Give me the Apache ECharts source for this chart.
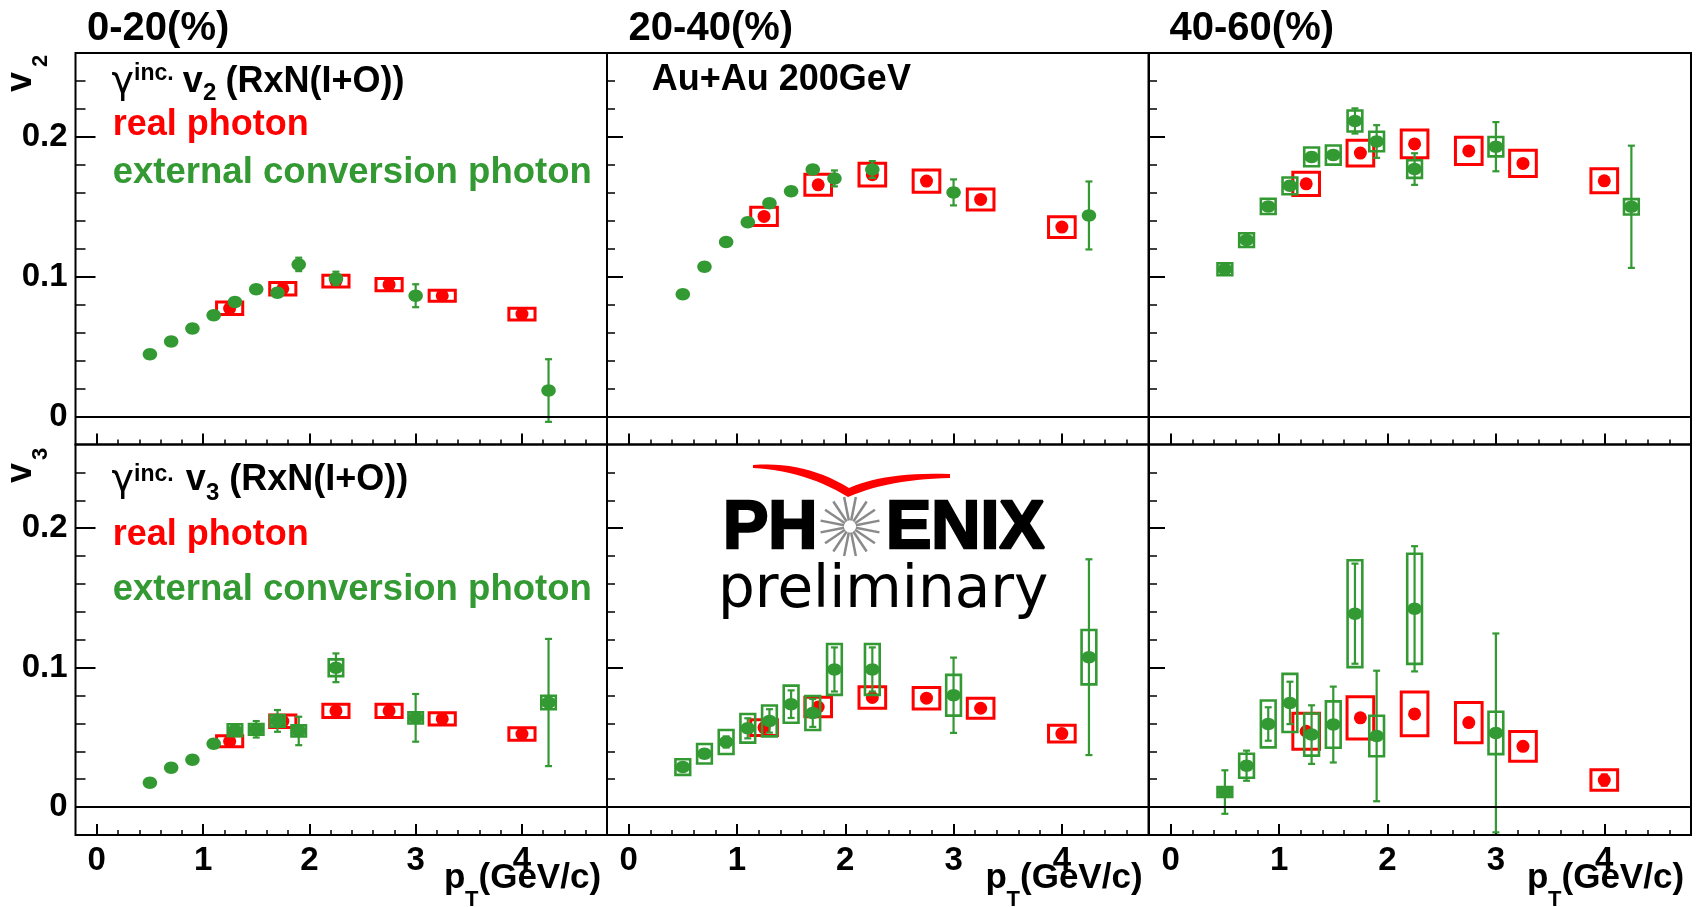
<!DOCTYPE html>
<html><head><meta charset="utf-8">
<script src="https://cdn.jsdelivr.net/npm/echarts@6/dist/echarts.min.js"></script>
<style>html,body{margin:0;padding:0;background:#fff}#c{width:1698px;height:907px}</style>
</head><body><div id="c"></div>
<script>
// ---------------- data ----------------
const greenX = [0.5, 0.7, 0.9, 1.1, 1.3, 1.5, 1.7, 1.9, 2.25, 3.0, 4.25];
const greenX_v3_4060 = [0.5, 0.7, 0.9, 1.1, 1.3, 1.5, 1.7, 1.9, 2.25, 3.0];
const redX = [1.25, 1.75, 2.25, 2.75, 3.25, 4.0];

const xMajorTicks = [0, 1, 2, 3, 4];
const xMinorTicks = [0.2,0.4,0.6,0.8,1.2,1.4,1.6,1.8,2.2,2.4,2.6,2.8,3.2,3.4,3.6,3.8,4.2,4.4,4.6];
const yMajorTicks = [0, 0.1, 0.2];
const yMinorTicks = [0.02,0.04,0.06,0.08,0.12,0.14,0.16,0.18,0.22,0.24];
const centralityLabels = ['0-20(%)', '20-40(%)', '40-60(%)'];

// v2, 0-20%
const v2_0020_extY    = [0.0445,0.0536,0.0629,0.0724,0.0819,0.0910,0.0886,0.1088,0.0988,0.0864,0.0186];
const v2_0020_extStat = [0.002,0.002,0.002,0.002,0.002,0.002,0.003,0.0048,0.0048,0.0082,0.0224];
const v2_0020_extSyst = [null,null,null,null,null,null,null,null,null,null,null];
const v2_0020_realY    = [0.0774,0.0914,0.0969,0.0943,0.0864,0.0733];
const v2_0020_realStat = [0.002,0.002,0.002,0.002,0.002,0.002];
const v2_0020_realSyst = [0.0045,0.0045,0.0042,0.0044,0.0040,0.0042];
// v2, 20-40%
const v2_2040_extY    = [0.0874,0.1072,0.1248,0.1390,0.1526,0.1612,0.1767,0.1703,0.1767,0.1603,0.1438];
const v2_2040_extStat = [0.002,0.002,0.002,0.002,0.002,0.002,0.003,0.0057,0.0060,0.0093,0.0243];
const v2_2040_extSyst = [null,null,null,null,null,null,null,null,null,null,null];
const v2_2040_realY    = [0.1431,0.1657,0.1730,0.1684,0.1553,0.1355];
const v2_2040_realStat = [0.002,0.002,0.002,0.002,0.002,0.002];
const v2_2040_realSyst = [0.0065,0.0075,0.0081,0.0080,0.0075,0.0074];
// v2, 40-60%
const v2_4060_extY    = [0.1053,0.1262,0.1503,0.1650,0.1857,0.1870,0.2114,0.1967,0.1770,0.1930,0.1500];
const v2_4060_extStat = [0.002,0.002,0.002,0.003,0.003,0.003,0.0090,0.0117,0.0113,0.0176,0.0437];
const v2_4060_extSyst = [0.0043,0.0049,0.0055,0.0060,0.0067,0.0068,0.0075,0.0070,0.0063,0.0069,0.0055];
const v2_4060_realY    = [0.1664,0.1884,0.1950,0.1900,0.1810,0.1686];
const v2_4060_realStat = [0.002,0.002,0.002,0.002,0.002,0.002];
const v2_4060_realSyst = [0.0083,0.0092,0.0100,0.0098,0.0094,0.0086];
// v3, 0-20%
const v3_0020_extY    = [0.0175,0.0283,0.0340,0.0455,0.0551,0.0558,0.0618,0.0546,0.0999,0.0640,0.0750];
const v3_0020_extStat = [0.001,0.001,0.001,0.002,0.003,0.0059,0.0078,0.0102,0.0103,0.0171,0.0456];
const v3_0020_extSyst = [null,null,null,null,0.0043,0.0038,0.0042,0.0040,0.0060,0.0040,0.0048];
const v3_0020_realY    = [0.0472,0.0616,0.0690,0.0690,0.0632,0.0524];
const v3_0020_realStat = [0.002,0.002,0.002,0.002,0.002,0.002];
const v3_0020_realSyst = [0.0040,0.0045,0.0048,0.0048,0.0044,0.0045];
// v3, 20-40%
const v3_2040_extY    = [0.0287,0.0383,0.0467,0.0565,0.0618,0.0738,0.0675,0.0987,0.0987,0.0802,0.1075];
const v3_2040_extStat = [0.002,0.003,0.004,0.0072,0.0084,0.0099,0.0100,0.0158,0.0158,0.0270,0.0702];
const v3_2040_extSyst = [0.0056,0.0070,0.0086,0.0103,0.0111,0.0133,0.0122,0.0182,0.0182,0.0146,0.0195];
const v3_2040_realY    = [0.0570,0.0718,0.0786,0.0781,0.0709,0.0527];
const v3_2040_realStat = [0.002,0.002,0.002,0.002,0.002,0.002];
const v3_2040_realSyst = [0.0057,0.0070,0.0077,0.0077,0.0072,0.0060];
// v3, 40-60%
const v3_4060_extY    = [0.0108,0.0297,0.0596,0.0747,0.0520,0.0592,0.1387,0.0510,0.1422,0.0532];
const v3_4060_extStat = [0.0156,0.0108,0.0120,0.0152,0.0210,0.0272,0.0359,0.0468,0.0449,0.0713];
const v3_4060_extSyst = [0.0035,0.0086,0.0168,0.0208,0.0151,0.0166,0.0383,0.0145,0.0395,0.0152];
const v3_4060_realY    = [0.0544,0.0640,0.0668,0.0606,0.0436,0.0194];
const v3_4060_realStat = [0.002,0.002,0.002,0.002,0.002,0.004];
const v3_4060_realSyst = [0.0129,0.0151,0.0157,0.0144,0.0107,0.0073];

// ---------------- layout / style ----------------
const RED = '#ff0000', GREEN = '#339933';
const colLeft = [75.5, 607, 1149], colWidth = [531.5, 541.5, 542];
const rowTop = [53, 444.5], rowHeight = [391.5, 390.5];
const RED_HW = 0.123, GREEN_HW = 0.068;
const ELLIPSE = 'path://M0,-1C0.552,-1,1,-0.552,1,0C1,0.552,0.552,1,0,1C-0.552,1,-1,0.552,-1,0C-1,-0.552,-0.552,-1,0,-1Z';

const panels = [
  {gx: greenX, gy: v2_0020_extY, gs: v2_0020_extStat, gsy: v2_0020_extSyst, ry: v2_0020_realY, rs: v2_0020_realStat, rsy: v2_0020_realSyst},
  {gx: greenX, gy: v2_2040_extY, gs: v2_2040_extStat, gsy: v2_2040_extSyst, ry: v2_2040_realY, rs: v2_2040_realStat, rsy: v2_2040_realSyst},
  {gx: greenX, gy: v2_4060_extY, gs: v2_4060_extStat, gsy: v2_4060_extSyst, ry: v2_4060_realY, rs: v2_4060_realStat, rsy: v2_4060_realSyst},
  {gx: greenX, gy: v3_0020_extY, gs: v3_0020_extStat, gsy: v3_0020_extSyst, ry: v3_0020_realY, rs: v3_0020_realStat, rsy: v3_0020_realSyst},
  {gx: greenX, gy: v3_2040_extY, gs: v3_2040_extStat, gsy: v3_2040_extSyst, ry: v3_2040_realY, rs: v3_2040_realStat, rsy: v3_2040_realSyst},
  {gx: greenX_v3_4060, gy: v3_4060_extY, gs: v3_4060_extStat, gsy: v3_4060_extSyst, ry: v3_4060_realY, rs: v3_4060_realStat, rsy: v3_4060_realSyst}
];

function boxRender(color, hw, lw) {
  return function (params, api) {
    const x = api.value(0), y = api.value(1), s = api.value(2);
    const p1 = api.coord([x - hw, y + s]), p2 = api.coord([x + hw, y - s]);
    return {type: 'rect', shape: {x: p1[0], y: p1[1], width: p2[0] - p1[0], height: p2[1] - p1[1]},
      style: {fill: 'none', stroke: color, lineWidth: lw}};
  };
}
function errRender(color) {
  return function (params, api) {
    const x = api.value(0), y = api.value(1), e = api.value(2);
    const t = api.coord([x, y + e]), b = api.coord([x, y - e]);
    const c = 3.5, st = {stroke: color, lineWidth: 2.2};
    return {type: 'group', children: [
      {type: 'line', shape: {x1: t[0], y1: t[1], x2: b[0], y2: b[1]}, style: st},
      {type: 'line', shape: {x1: t[0] - c, y1: t[1], x2: t[0] + c, y2: t[1]}, style: st},
      {type: 'line', shape: {x1: b[0] - c, y1: b[1], x2: b[0] + c, y2: b[1]}, style: st}
    ]};
  };
}

const grid = [], xAxis = [], yAxis = [], series = [];
const labelFont = {color: '#000', fontFamily: 'Liberation Sans', fontWeight: 'bold', fontSize: 33};
panels.forEach((p, g) => {
  const row = g < 3 ? 0 : 1, col = g % 3;
  grid.push({left: colLeft[col], top: rowTop[row], width: colWidth[col], height: rowHeight[row],
    show: true, borderColor: '#000', borderWidth: 2, backgroundColor: 'transparent',
    containLabel: false, outerBoundsMode: 'none'});
  const xb = {gridIndex: g, type: 'value', min: -0.2, max: 4.8, position: 'bottom',
    axisLine: {show: false, onZero: false}, splitLine: {show: false}};
  xAxis.push(Object.assign({}, xb, {
    axisTick: {show: true, inside: true, length: 11, customValues: xMajorTicks, lineStyle: {color: '#000', width: 2}},
    axisLabel: Object.assign({show: row === 1, customValues: xMajorTicks, margin: 9}, labelFont)}));
  xAxis.push(Object.assign({}, xb, {
    axisTick: {show: true, inside: true, length: 5, customValues: xMinorTicks, lineStyle: {color: '#000', width: 1.5}},
    axisLabel: {show: false}}));
  const yb = {gridIndex: g, type: 'value', min: -0.02, max: 0.26, position: 'left',
    axisLine: {show: false, onZero: false}, splitLine: {show: false}};
  yAxis.push(Object.assign({}, yb, {
    axisTick: {show: true, inside: true, length: col === 0 ? 20 : 16, customValues: yMajorTicks, lineStyle: {color: '#000', width: 2}},
    axisLabel: Object.assign({show: col === 0, customValues: yMajorTicks, margin: 8}, labelFont)}));
  yAxis.push(Object.assign({}, yb, {
    axisTick: {show: true, inside: true, length: col === 0 ? 10 : 8, customValues: yMinorTicks, lineStyle: {color: '#000', width: 1.5}},
    axisLabel: {show: false}}));
  const ax = {xAxisIndex: 2 * g, yAxisIndex: 2 * g};
  const red = redX.map((x, i) => [x, p.ry[i], p.rsy[i]]);
  const redErr = redX.map((x, i) => [x, p.ry[i], p.rs[i]]);
  const gBox = p.gx.map((x, i) => [x, p.gy[i], p.gsy[i]]).filter(d => d[2] != null);
  const gErr = p.gx.map((x, i) => [x, p.gy[i], p.gs[i]]);
  series.push(Object.assign({type: 'custom', renderItem: boxRender(RED, RED_HW, 3), data: red, z: 2}, ax));
  series.push(Object.assign({type: 'custom', renderItem: errRender(RED), data: redErr, z: 2}, ax));
  series.push(Object.assign({type: 'scatter', symbol: 'circle', symbolSize: 13, itemStyle: {color: RED, opacity: 1},
    data: redX.map((x, i) => [x, p.ry[i]]), z: 3,
    markLine: {silent: true, symbol: 'none', label: {show: false}, animation: false,
      lineStyle: {color: '#000', width: 2, type: 'solid'}, data: [{yAxis: 0}]}}, ax));
  series.push(Object.assign({type: 'custom', renderItem: boxRender(GREEN, GREEN_HW, 2.6), data: gBox, z: 4}, ax));
  series.push(Object.assign({type: 'custom', renderItem: errRender(GREEN), data: gErr, z: 4}, ax));
  series.push(Object.assign({type: 'scatter', symbol: ELLIPSE, symbolSize: [14.5, 12.5], itemStyle: {color: GREEN, opacity: 1},
    data: p.gx.map((x, i) => [x, p.gy[i]]), z: 5}, ax));
});

// ---------------- text annotations ----------------
function txt(str, x, base, size, opt) {
  opt = opt || {};
  const fam = opt.family || 'Liberation Sans';
  const w = opt.weight || 'bold';
  const st = {text: str, font: w + ' ' + size + 'px "' + fam + '"', fill: opt.color || '#000',
    textAlign: 'left', textVerticalAlign: 'middle'};
  if (opt.stroke) { st.stroke = opt.color || '#000'; st.lineWidth = opt.stroke; }
  return {type: 'text', x: x, y: base - 0.33 * size, scaleX: opt.sx || 1, z: 100, style: st};
}
function rtxt(str, xBase, yStart, size) {
  return {type: 'text', x: xBase - 0.33 * size, y: yStart, rotation: Math.PI / 2, z: 100,
    style: {text: str, font: 'bold ' + size + 'px "Liberation Sans"', fill: '#000',
      textAlign: 'left', textVerticalAlign: 'middle'}};
}
function quad(p0, p1, p2, n) {
  const pts = [];
  for (let i = 0; i <= n; i++) {
    const t = i / n, a = (1 - t) * (1 - t), b = 2 * t * (1 - t), c = t * t;
    pts.push([a * p0[0] + b * p1[0] + c * p2[0], a * p0[1] + b * p1[1] + c * p2[1]]);
  }
  return pts;
}
const gfx = [];
[87, 628.6, 1169.5].forEach((x, i) => gfx.push(txt(centralityLabels[i], x, 42, 40)));
// y titles
gfx.push(rtxt('v', 32.5, 92, 36), rtxt('2', 48.5, 67, 22));
gfx.push(rtxt('v', 32.5, 483, 36), rtxt('3', 48.5, 460, 22));
// top-left legend
gfx.push(txt('γ', 111.5, 96, 38, {weight: 'normal', family: 'DejaVu Sans'}));
gfx.push(txt('inc.', 134, 81, 23));
gfx.push(txt('v', 182.7, 94, 36), txt('2', 203, 101, 24), txt('(RxN(I+O))', 225.4, 94, 36));
gfx.push(txt('real photon', 112.7, 137, 36, {color: RED}));
gfx.push(txt('external conversion photon', 112.7, 185, 36, {color: GREEN, sx: 1.015}));
// bottom-left legend
gfx.push(txt('γ', 111.5, 494, 38, {weight: 'normal', family: 'DejaVu Sans'}));
gfx.push(txt('inc.', 134, 482, 23));
gfx.push(txt('v', 185.8, 492, 36), txt('3', 206, 501.7, 24), txt('(RxN(I+O))', 229.3, 492, 36));
gfx.push(txt('real photon', 112.7, 547, 36, {color: RED}));
gfx.push(txt('external conversion photon', 112.7, 602, 36, {color: GREEN, sx: 1.015}));
// collision system
gfx.push(txt('Au+Au 200GeV', 651.8, 92, 36));
// x titles
[444, 985.5, 1527].forEach(x => {
  gfx.push(txt('p', x, 890, 35), txt('T', x + 21, 907, 22), txt('(GeV/c)', x + 34.5, 890, 35));
});
// PHENIX preliminary logo
const swoosh = [].concat(
  quad([753, 465], [805, 461], [849, 488], 14),
  quad([849, 488], [885, 472], [950, 474], 14),
  quad([950, 478], [890, 479], [848, 497], 14),
  quad([848, 497], [806, 471], [753, 468], 14));
gfx.push({type: 'polygon', z: 100, shape: {points: swoosh}, style: {fill: RED}});
gfx.push(txt('PH', 723, 551.7, 68, {stroke: 2.5}));
gfx.push(txt('ENIX', 886, 551.7, 68, {stroke: 2.5}));
for (let k = 0; k < 16; k++) {
  const a = k * Math.PI / 8 + Math.PI / 16;
  gfx.push({type: 'line', z: 100, shape: {x1: 850 + 6 * Math.cos(a), y1: 526.5 + 6 * Math.sin(a), x2: 850 + 30 * Math.cos(a), y2: 526.5 + 30 * Math.sin(a)},
    style: {stroke: '#8a8a8a', lineWidth: 2.5}});
}
gfx.push(txt('preliminary', 718, 611, 58, {weight: 'normal', family: 'DejaVu Sans'}));

const chart = echarts.init(document.getElementById('c'), null, {renderer: 'canvas'});
chart.setOption({animation: false, backgroundColor: '#fff', graphic: gfx});
chart.setOption({grid, xAxis, yAxis, series});
</script></body></html>
